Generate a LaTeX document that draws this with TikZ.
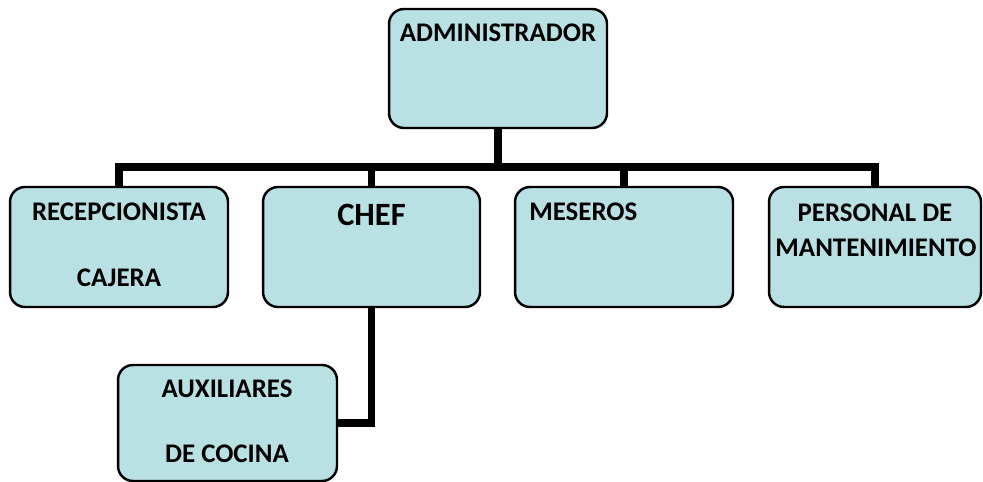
\documentclass[tikz,border=0pt]{standalone}
\usepackage{fontspec}
\setmainfont{Carlito}[BoldFont={Carlito Bold}]
\usetikzlibrary{positioning,calc}
\definecolor{boxfill}{HTML}{B9E0E3}
\tikzset{
  cargo/.style={draw=black,line width=1.4pt,fill=boxfill,rounded corners=8.5pt,
    minimum width=4.36cm,minimum height=2.4cm,inner sep=0pt,outer sep=0pt},
  rotulo/.style={font=\fontsize{15.3}{18}\selectfont\bfseries,inner sep=0pt,anchor=base},
  enlace/.style={line width=4.5pt}
}
\begin{document}
\begin{tikzpicture}[x=0.02cm,y=-0.02cm]
  \useasboundingbox (0,0) rectangle (983,482);
  % boxes
  \node[cargo,minimum height=2.38cm] (admin) at (498,68.5) {};
  \node[cargo] (recep) at (119,247) {};
  \node[cargo,minimum width=4.34cm] (chef) at (371.5,247) {};
  \node[cargo] (mes) at (624,247) {};
  \node[cargo,minimum width=4.24cm] (pers) at (875,247) {};
  \node[cargo,minimum width=4.38cm,minimum height=2.32cm] (aux) at (227.5,423) {};
  % labels
  \node[rotulo] (tadmin) at (498,42) {ADMINISTRADOR};
  \node[rotulo] (trecep) at (119,221) {RECEPCIONISTA};
  \node[rotulo] (tcaj) at (119,287) {CAJERA};
  \node[rotulo,font=\fontsize{18.5}{21}\selectfont\bfseries] (tchef) at (371.5,226) {CHEF};
  \node[rotulo,anchor=base west] (tmes) at (529,221) {MESEROS};
  \node[rotulo] (tpers) at (875,222) {PERSONAL DE};
  \node[rotulo] (tmant) at (876,257) {MANTENIMIENTO};
  \node[rotulo] (taux) at (227,398) {AUXILIARES};
  \node[rotulo] (tcoc) at (227,462) {DE COCINA};
  % connectors
  \coordinate (barra) at (498,167);
  \draw[enlace] (admin.south) -- (barra);
  \draw[enlace] (recep.north) |- (barra) -| (pers.north);
  \draw[enlace] (chef.north) -- (chef.north |- barra);
  \draw[enlace] (mes.north) -- (mes.north |- barra);
  \draw[enlace] (chef.south) |- (aux.east);
\end{tikzpicture}
\end{document}
